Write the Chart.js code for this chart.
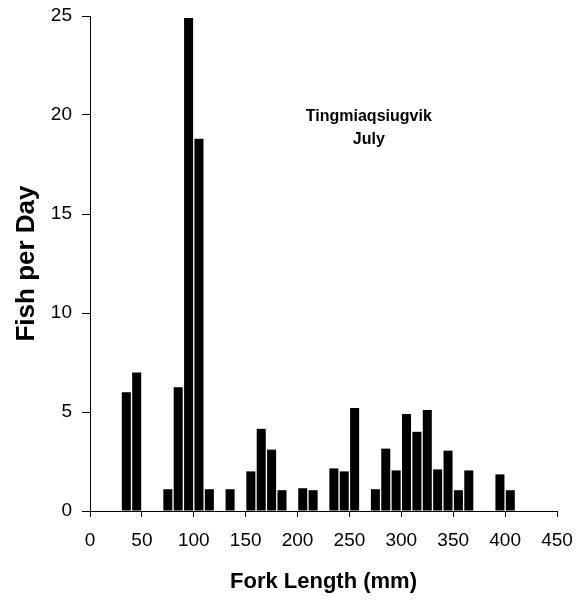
<!DOCTYPE html>
<html>
<head>
<meta charset="utf-8">
<script src="https://cdn.jsdelivr.net/npm/chart.js@4.4.1/dist/chart.umd.min.js"></script>
<style>
  html, body { margin: 0; padding: 0; background: #fff; }
  #wrap { position: relative; width: 583px; height: 603px; }
</style>
</head>
<body>
<div id="wrap"><canvas id="fChart" width="583" height="603"></canvas></div>
<script>
// fork length bins (mm, bin centres) and fish per day
var forkLength = [35, 45, 55, 65, 75, 85, 95, 105, 115, 125, 135, 145, 155, 165, 175, 185, 195, 205, 215,
                  225, 235, 245, 255, 265, 275, 285, 295, 305, 315, 325, 335, 345, 355, 365, 375, 385, 395, 405];
var fishPerDay = [6.0, 7.0, 0, 0, 1.1, 6.25, 24.9, 18.8, 1.1, 0, 1.1, 0, 2.0, 4.15, 3.1, 1.05, 0, 1.15, 1.05,
                  0, 2.15, 2.0, 5.2, 0, 1.1, 3.15, 2.05, 4.9, 4.0, 5.1, 2.1, 3.05, 1.05, 2.05, 0, 0, 1.85, 1.05];
var xTicks = [0, 50, 100, 150, 200, 250, 300, 350, 400, 450];
var yTicks = [0, 5, 10, 15, 20, 25];
var siteName = 'Tingmiaqsiugvik';
var monthName = 'July';

var pts = [];
for (var i = 0; i < forkLength.length; i++) {
    pts.push({ x: forkLength[i], y: fishPerDay[i] });
}

// label inside the plot
var siteLabel = {
    id: 'siteLabel',
    afterDraw: function (chart) {
        var c = chart.ctx, a = chart.chartArea;
        c.save();
        c.fillStyle = '#000';
        c.font = 'bold 16px "Liberation Sans", Arial, sans-serif';
        c.textAlign = 'center';
        c.textBaseline = 'middle';
        var cx = a.left + (a.right - a.left) * 0.597;
        c.fillText(siteName, cx, 117);
        c.fillText(monthName, cx, 140);
        c.restore();
    }
};

var ctx = document.getElementById('fChart').getContext('2d');
var fChart = new Chart(ctx, {
    type: 'bar',
    data: {
        datasets: [{
            data: pts,
            backgroundColor: '#000',
            borderWidth: 0,
            barPercentage: 0.87,
            categoryPercentage: 1.0
        }]
    },
    options: {
        responsive: false,
        animation: false,
        layout: { padding: { top: 16, right: 26, left: 0, bottom: 0 } },
        plugins: { legend: { display: false }, tooltip: { enabled: false } },
        scales: {
            x: {
                type: 'linear',
                min: 0, max: 450,
                offset: false,
                afterFit: function (s) { s.height = 92; s.paddingLeft = 0; s.paddingRight = 0; },
                afterBuildTicks: function (s) { s.ticks = xTicks.map(function (v) { return { value: v }; }); },
                grid: { display: true, offset: false, drawOnChartArea: false, drawTicks: true, tickLength: 6, color: '#000' },
                border: { display: true, color: '#000', width: 1 },
                ticks: { color: '#000', padding: 12, font: { family: '"Liberation Sans", Arial', size: 19 } },
                title: { display: true, text: 'Fork Length (mm)', color: '#000', padding: { bottom: 8 },
                         font: { family: '"Liberation Sans", Arial', size: 22, weight: 'bold' } }
            },
            y: {
                min: 0, max: 25,
                afterFit: function (s) { s.width = 90; s.paddingTop = 0; s.paddingBottom = 0; },
                afterBuildTicks: function (s) { s.ticks = yTicks.map(function (v) { return { value: v }; }); },
                grid: { display: true, drawOnChartArea: false, drawTicks: true, tickLength: 8, color: '#000' },
                border: { display: true, color: '#000', width: 1 },
                ticks: { color: '#000', padding: 10, font: { family: '"Liberation Sans", Arial', size: 19 } },
                title: { display: true, text: 'Fish per Day', color: '#000', padding: { top: 11 },
                         font: { family: '"Liberation Sans", Arial', size: 26, weight: 'bold' } }
            }
        }
    },
    plugins: [siteLabel]
});
</script>
</body>
</html>
